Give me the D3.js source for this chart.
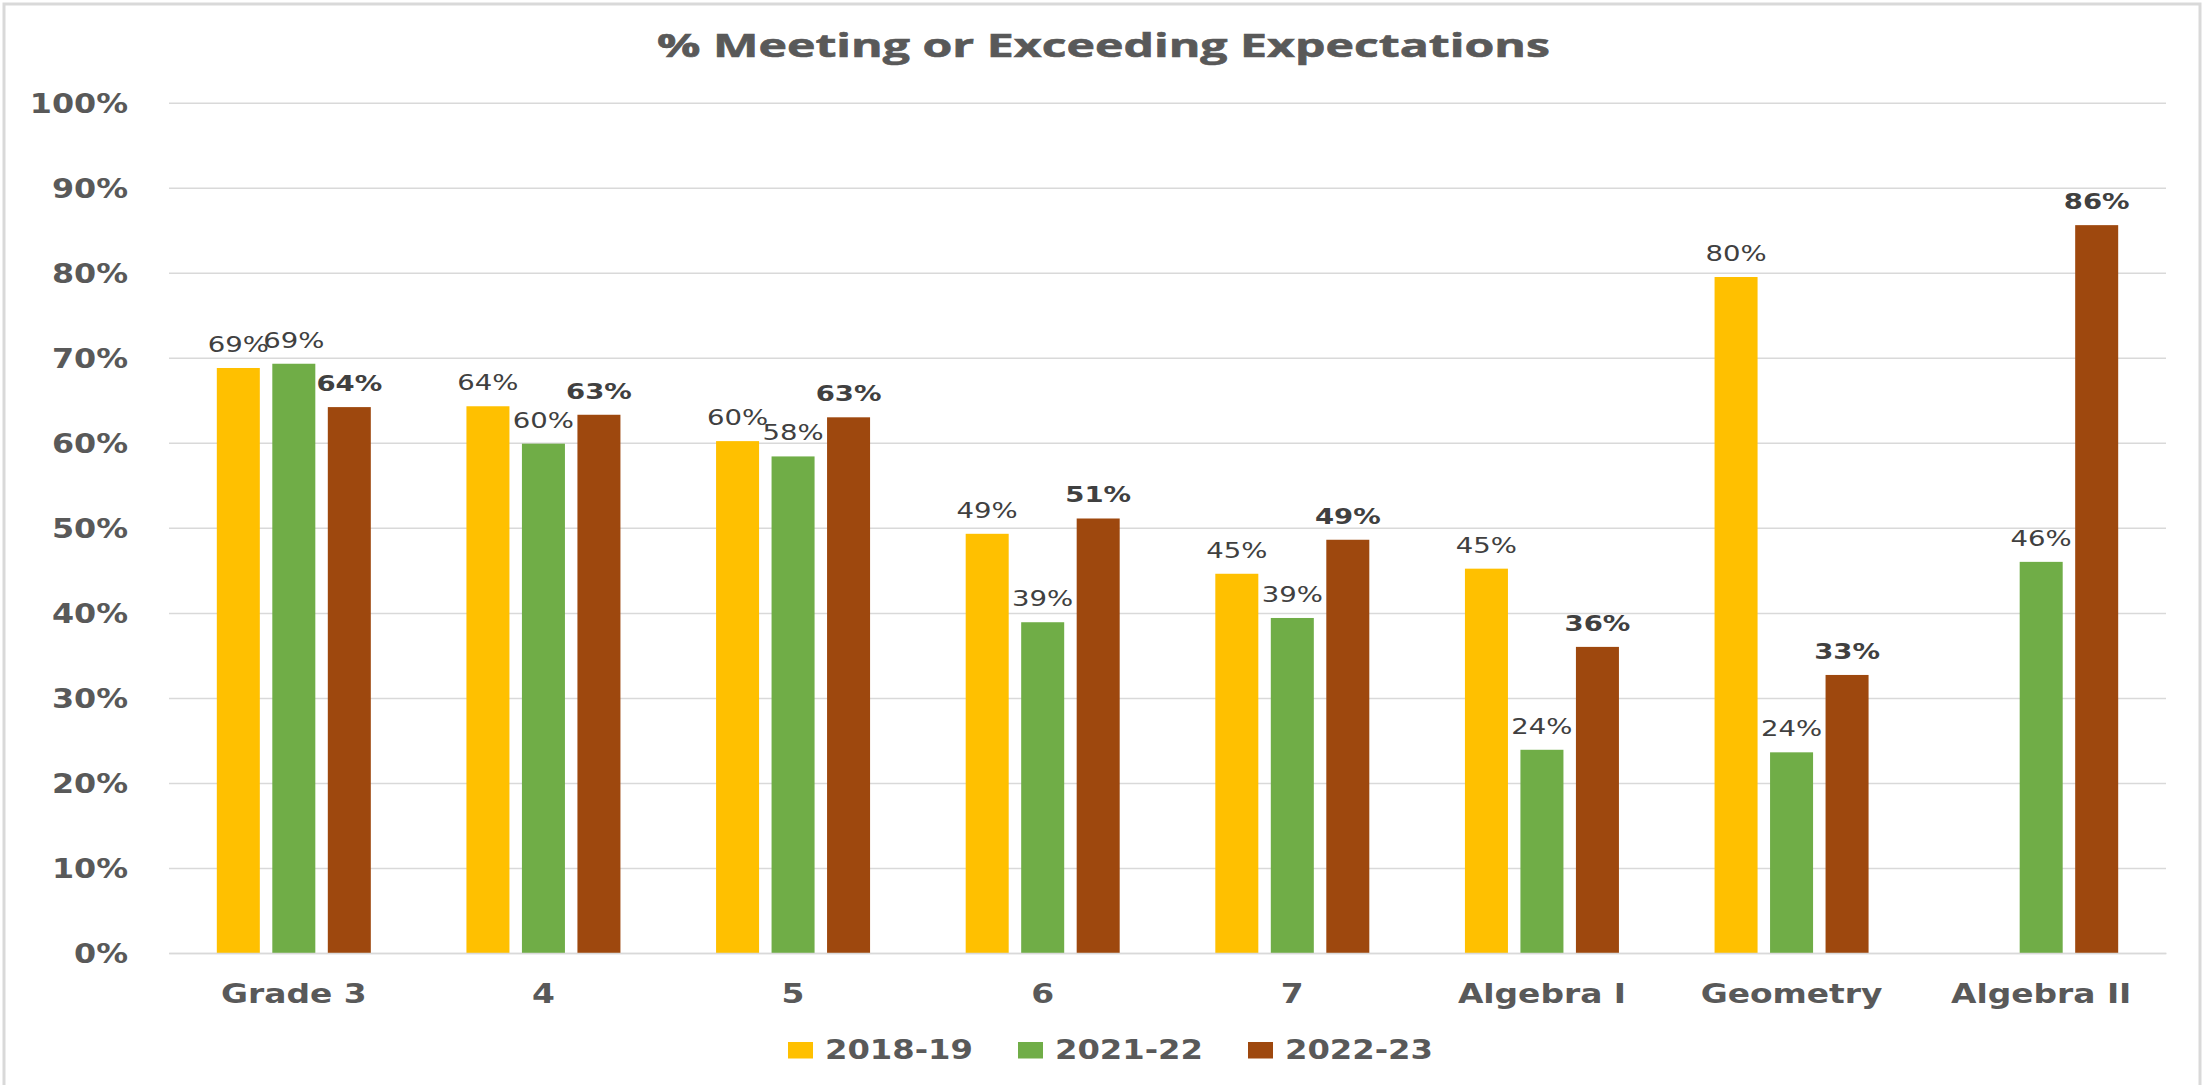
<!DOCTYPE html>
<html>
<head>
<meta charset="utf-8">
<script src="https://cdn.jsdelivr.net/npm/d3@7"></script>
<style>
  html, body { margin: 0; padding: 0; background: #fff; }
</style>
</head>
<body>
<div id="chart"></div>
<script>
const categories = ['Grade 3', '4', '5', '6', '7', 'Algebra I', 'Geometry', 'Algebra II'];
const seriesNames = ['2018-19', '2021-22', '2022-23'];
const seriesColors = ['#FFC000', '#70AD47', '#9E480E'];
const values2018 = [0.688, 0.643, 0.602, 0.493, 0.446, 0.452, 0.795, null];
const values2021 = [0.693, 0.599, 0.584, 0.389, 0.394, 0.239, 0.236, 0.460];
const values2022 = [0.642, 0.633, 0.630, 0.511, 0.486, 0.360, 0.327, 0.856];
const yTicks = [0, 0.1, 0.2, 0.3, 0.4, 0.5, 0.6, 0.7, 0.8, 0.9, 1.0];
const titleText = '% Meeting or Exceeding Expectations';

const seriesValues = [values2018, values2021, values2022];

const width = 2202;
const height = 1085;
const margin = { top: 102.7, right: 36, bottom: 132, left: 169 };

const svg = d3.select('#chart')
    .append('svg')
    .attr('width', width)
    .attr('height', height);

// outer frame of the pasted chart
svg.append('rect')
    .attr('x', 4).attr('y', 4)
    .attr('width', width - 6).attr('height', height + 10)
    .attr('fill', 'none')
    .attr('stroke', '#d9d9d9')
    .attr('stroke-width', 3);

const x0 = d3.scaleBand()
    .domain(categories)
    .range([margin.left, width - margin.right])
    .paddingInner(0)
    .paddingOuter(0);

const groupWidth = 154;
const x1 = d3.scaleBand()
    .domain(seriesNames)
    .range([(x0.bandwidth() - groupWidth) / 2, (x0.bandwidth() + groupWidth) / 2])
    .paddingInner(0.225);

const y = d3.scaleLinear()
    .domain([0, 1])
    .range([height - margin.bottom, margin.top]);

const pct = d3.format('.0%');

// Y axis + gridlines
const yAxis = svg.append('g')
    .attr('transform', `translate(${margin.left},0)`)
    .call(d3.axisLeft(y)
        .tickValues(yTicks)
        .tickSize(-(width - margin.left - margin.right))
        .tickFormat(pct));

yAxis.select('.domain').remove();
yAxis.selectAll('line')
    .attr('stroke', '#d9d9d9')
    .attr('stroke-width', 1.5);
yAxis.selectAll('text')
    .attr('x', 0)
    .attr('dy', 0)
    .attr('transform', 'translate(-41,9.5) scale(1.16,1)')
    .attr('text-anchor', 'end')
    .style('font-family', '"DejaVu Sans", Verdana, sans-serif')
    .style('font-weight', 'bold')
    .style('font-size', '27.4px')
    .attr('fill', '#595959');

// bars
const groups = svg.append('g')
    .selectAll('g')
    .data(categories)
    .join('g')
    .attr('transform', d => `translate(${x0(d)},0)`);

const cells = groups.selectAll('g')
    .data((c, ci) => seriesNames.map((s, si) => ({ series: s, si: si, value: seriesValues[si][ci] }))
        .filter(d => d.value !== null))
    .join('g');

cells.append('rect')
    .attr('x', d => x1(d.series))
    .attr('y', d => y(d.value))
    .attr('width', x1.bandwidth())
    .attr('height', d => y(0) - y(d.value))
    .attr('fill', d => seriesColors[d.si]);

cells.append('text')
    .attr('transform', d => `translate(${x1(d.series) + x1.bandwidth() / 2},${y(d.value) - 16}) scale(1.28,1)`)
    .attr('text-anchor', 'middle')
    .style('font-family', '"DejaVu Sans", Verdana, sans-serif')
    .style('font-size', '21.5px')
    .style('font-weight', d => d.si === 2 ? 'bold' : 'normal')
    .attr('fill', '#404040')
    .text(d => pct(d.value));

// X axis
const xAxis = svg.append('g')
    .attr('transform', `translate(0,${y(0)})`)
    .call(d3.axisBottom(x0).tickSize(0).tickSizeOuter(0));

xAxis.select('.domain')
    .attr('stroke', '#d9d9d9')
    .attr('stroke-width', 1.5);
xAxis.selectAll('text')
    .attr('y', 0)
    .attr('dy', 0)
    .attr('transform', 'translate(0,50) scale(1.2,1)')
    .style('font-family', '"DejaVu Sans", Verdana, sans-serif')
    .style('font-weight', 'bold')
    .style('font-size', '27.4px')
    .attr('fill', '#595959');

// title
svg.append('text')
    .attr('x', 1103.5)
    .attr('y', 57)
    .attr('text-anchor', 'middle')
    .attr('textLength', 893)
    .attr('lengthAdjust', 'spacingAndGlyphs')
    .style('font-family', '"Open Sans", Lato, sans-serif')
    .style('font-weight', 'bold')
    .style('font-size', '32px')
    .attr('fill', '#595959')
    .attr('stroke', '#595959')
    .attr('stroke-width', 0.6)
    .text(titleText);

// legend
const legendStep = 230;
const legend = svg.append('g')
    .attr('transform', 'translate(788,1042)')
    .selectAll('g')
    .data(seriesNames)
    .join('g')
    .attr('transform', (d, i) => `translate(${i * legendStep},0)`);

legend.append('rect')
    .attr('width', 25)
    .attr('height', 16.5)
    .attr('fill', (d, i) => seriesColors[i]);

legend.append('text')
    .attr('transform', 'translate(37,16.5) scale(1.24,1)')
    .style('font-family', '"DejaVu Sans", Verdana, sans-serif')
    .style('font-weight', 'bold')
    .style('font-size', '26px')
    .attr('fill', '#595959')
    .text(d => d);
</script>
</body>
</html>
